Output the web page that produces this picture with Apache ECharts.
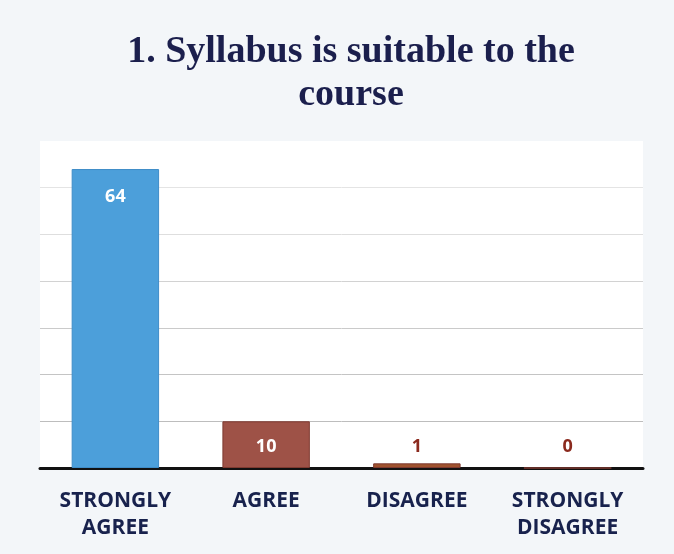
<!DOCTYPE html>
<html><head><meta charset="utf-8">
<script src="https://cdn.jsdelivr.net/npm/echarts@6/dist/echarts.min.js"></script>
<style>html,body{margin:0;padding:0;background:#f3f6f9}#c{width:674px;height:554px}</style>
</head><body><div id="c"></div>
<script>
var categories = ['STRONGLY\nAGREE', 'AGREE', 'DISAGREE', 'STRONGLY\nDISAGREE'];
var values = [64, 10, 1, 0];
var barColors = ['#4c9fda', '#9e5247', '#a0522d', '#a0522d'];
var titleText = '1. Syllabus is suitable to the\ncourse';

var data = values.map(function (v, i) {
  var inside = v >= 5;
  return {
    value: v,
    itemStyle: { color: barColors[i], borderColor: i === 0 ? '#3f8dc8' : '#7e3a30', borderWidth: 1 },
    label: inside ? { position: 'insideTop', distance: i === 0 ? 19 : 17, color: '#ffffff' }
                  : { position: 'top', distance: v === 0 ? 12 : 7, color: '#8b2a1e' }
  };
});

var chart = echarts.init(document.getElementById('c'));
chart.setOption({
  backgroundColor: '#f3f6f9',
  title: {
    text: titleText, left: 346, top: 26, textAlign: 'center',
    textStyle: { fontFamily: 'Liberation Serif', fontWeight: 'bold', fontSize: 38, color: '#1b1f4d', lineHeight: 43 }
  },
  grid: { left: 40, right: 31, top: 141, bottom: 86, show: true, backgroundColor: '#ffffff', borderWidth: 0 },
  xAxis: {
    type: 'category', data: categories,
    axisLine: { lineStyle: { color: '#111111', width: 3 } },
    axisTick: { show: false },
    axisLabel: { color: '#18224d', fontFamily: 'Open Sans', fontWeight: 'bold', fontSize: 21, lineHeight: 27, margin: 20, interval: 0 }
  },
  yAxis: {
    type: 'value', min: 0, max: 70, interval: 10,
    axisLine: { show: false }, axisTick: { show: false }, axisLabel: { show: false },
    splitLine: { lineStyle: { color: ['#c4c4c4', '#bdbdbd', '#c4c4c4', '#cacaca', '#d2d2d2', '#dedede', '#e4e4e4', 'rgba(0,0,0,0)'], width: 1 } }
  },
  series: [{
    type: 'bar', data: data, barWidth: '58%',
    label: { show: true, fontFamily: 'Open Sans', fontWeight: 'bold', fontSize: 18 }
  }]
});
</script></body></html>
